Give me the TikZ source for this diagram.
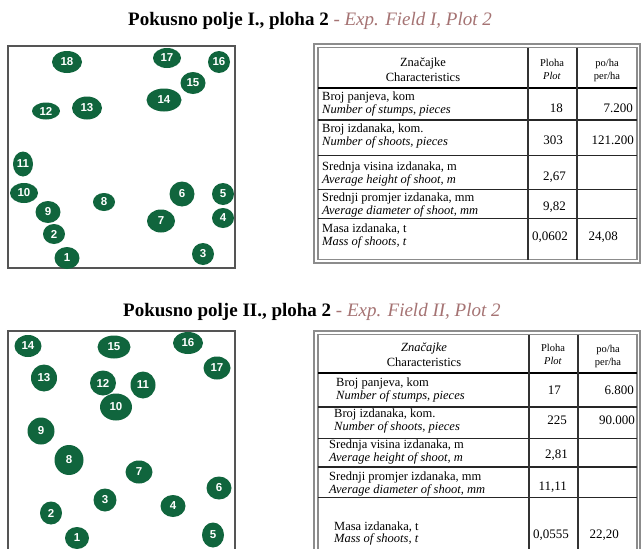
\documentclass[tikz,border=0pt]{standalone}
\usepackage{fontspec}
\setmainfont{Liberation Serif}
\setsansfont{Liberation Sans}
\usetikzlibrary{shapes.geometric}
\definecolor{stumpgreen}{HTML}{10653D}
\definecolor{rose}{RGB}{165,115,115}
\definecolor{boxgray}{RGB}{85,85,85}
\definecolor{tabgray}{RGB}{140,140,140}
\tikzset{
  stump/.style={ellipse, fill=stumpgreen, text=white, inner sep=0pt, font=\sffamily\bfseries\fontsize{11.5}{12}\selectfont},
  sz/.style 2 args={minimum width=#1pt, minimum height=#2pt},
  title/.style={anchor=base west, inner sep=0pt, font=\fontsize{19}{22}\selectfont},
  rowtext/.style={anchor=west, inner sep=0pt, align=left, font=\fontsize{12.5}{13}\selectfont},
  num/.style={anchor=east, inner sep=0pt, font=\fontsize{13}{14}\selectfont},
  hdr/.style={inner sep=0pt, align=center, font=\fontsize{12.5}{15}\selectfont},
  smallhdr/.style={inner sep=0pt, align=center, font=\fontsize{10.5}{13}\selectfont},
  plotbox/.style={draw=boxgray, line width=1.6pt},
  outerframe/.style={draw=tabgray, line width=1.2pt},
  rowrule/.style={draw=black!85, line width=0.9pt},
  thickrule/.style={draw=black, line width=2pt},
  colrule/.style={draw=black!80, line width=1.1pt},
}
\begin{document}
\begin{tikzpicture}[x=1pt,y=-1pt]
\useasboundingbox[fill=white] (0,0) rectangle (641,549);

% ---------- Titles ----------
\node[title] (t1) at (128,25) {\textbf{Pokusno polje I., ploha 2} \textcolor{rose}{\textit{- Exp. Field I, Plot 2}}};
\node[title] (t2) at (123,316) {\textbf{Pokusno polje II., ploha 2} \textcolor{rose}{\textit{- Exp. Field II, Plot 2}}};

% ---------- Plot 1 ----------
\draw[plotbox] (8,46) rectangle (235,268);
\node[stump,sz={30}{22}] (a18) at (67,62) {18};
\node[stump,sz={28}{20}] (a17) at (167,58) {17};
\node[stump,sz={22}{22}] (a16) at (219,62) {16};
\node[stump,sz={25}{22}] (a15) at (193,83) {15};
\node[stump,sz={35}{23}] (a14) at (164,100) {14};
\node[stump,sz={28}{17}] (a12) at (46,111) {12};
\node[stump,sz={30}{23}] (a13) at (87,108) {13};
\node[stump,sz={20}{25}] (a11) at (23,164) {11};
\node[stump,sz={28}{20}] (a10) at (24,193) {10};
\node[stump,sz={22}{18}] (a8) at (104,202) {8};
\node[stump,sz={25}{22}] (a9) at (48,212) {9};
\node[stump,sz={25}{25}] (a6) at (182,194) {6};
\node[stump,sz={22}{22}] (a5) at (223,194) {5};
\node[stump,sz={28}{23}] (a7) at (161,221) {7};
\node[stump,sz={22}{20}] (a4) at (223,218) {4};
\node[stump,sz={22}{20}] (a2) at (54,234) {2};
\node[stump,sz={25}{22}] (a1) at (67,258) {1};
\node[stump,sz={22}{22}] (a3) at (203,254) {3};

% ---------- Plot 2 ----------
\draw[plotbox] (8,560) -- (8,331) -- (235,331) -- (235,560);
\node[stump,sz={27}{22}] (b14) at (28,346) {14};
\node[stump,sz={33}{23}] (b15) at (114,347) {15};
\node[stump,sz={30}{22}] (b16) at (188,343) {16};
\node[stump,sz={27}{23}] (b17) at (217,368) {17};
\node[stump,sz={26}{27}] (b13) at (44,378) {13};
\node[stump,sz={26}{25}] (b12) at (103,383) {12};
\node[stump,sz={25}{27}] (b11) at (143,385) {11};
\node[stump,sz={32}{27}] (b10) at (116,407) {10};
\node[stump,sz={27}{27}] (b9) at (41,431) {9};
\node[stump,sz={29}{30}] (b8) at (69,460) {8};
\node[stump,sz={27}{23}] (b7) at (139,472) {7};
\node[stump,sz={25}{23}] (b6) at (219,488) {6};
\node[stump,sz={23}{23}] (b3) at (105,500) {3};
\node[stump,sz={25}{22}] (b4) at (173,506) {4};
\node[stump,sz={22}{23}] (b2) at (51,513) {2};
\node[stump,sz={24}{22}] (b1) at (77,538) {1};
\node[stump,sz={22}{25}] (b5) at (213,535) {5};

% ---------- Table 1 ----------
\draw[outerframe] (314,44) rectangle (640,263);
\draw[outerframe] (318,47.5) rectangle (637,259.5);
\draw[thickrule] (318,88) -- (637,88);
\draw[rowrule, line width=1.4pt] (318,120) -- (637,120);
\draw[rowrule] (318,155) -- (637,155);
\draw[rowrule] (318,189) -- (637,189);
\draw[rowrule] (318,218) -- (637,218);
\draw[colrule] (528,47.5) -- (528,259.5);
\draw[colrule] (577,47.5) -- (577,259.5);

\node[hdr] (h1a) at (423,70) {Značajke\\Characteristics};
\node[smallhdr] (h1b) at (552,69) {Ploha\\\textit{Plot}};
\node[smallhdr] (h1c) at (607,70) {po/ha\\per/ha};

\node[rowtext] (r11) at (322,104) {Broj panjeva, kom\\\textit{Number of stumps, pieces}};
\node[rowtext] (r12) at (322,136) {Broj izdanaka, kom.\\\textit{Number of shoots, pieces}};
\node[rowtext] (r13) at (322,174) {Srednja visina izdanaka, m\\\textit{Average height of shoot, m}};
\node[rowtext] (r14) at (322,205) {Srednji promjer izdanaka, mm\\\textit{Average diameter of shoot, mm}};
\node[rowtext] (r15) at (322,236) {Masa izdanaka, t\\\textit{Mass of shoots, t}};

\node[num] (v11) at (563,108) {18};
\node[num] (w11) at (633,108) {7.200};
\node[num] (v12) at (563,140) {303};
\node[num] (w12) at (634,140) {121.200};
\node[num] (v13) at (566,177) {2,67};
\node[num] (v14) at (566,207) {9,82};
\node[num] (v15) at (568,237) {0,0602};
\node[num] (w15) at (618,237) {24,08};

% ---------- Table 2 ----------
\draw[outerframe] (314,560) -- (314,331) -- (640,331) -- (640,560);
\draw[outerframe] (318,560) -- (318,334.5) -- (637,334.5) -- (637,560);
\draw[thickrule] (318,373) -- (637,373);
\draw[rowrule, line width=1.4pt] (318,407) -- (637,407);
\draw[rowrule] (318,438) -- (637,438);
\draw[rowrule, line width=1.8pt] (318,467) -- (637,467);
\draw[rowrule] (318,497) -- (637,497);
\draw[colrule] (529,334.5) -- (529,560);
\draw[colrule] (578,334.5) -- (578,560);

\node[hdr] (h2a) at (424,355) {\textit{Značajke}\\Characteristics};
\node[smallhdr] (h2b) at (553,354) {Ploha\\\textit{Plot}};
\node[smallhdr] (h2c) at (608,356) {po/ha\\per/ha};

\node[rowtext] (r21) at (336,390) {Broj panjeva, kom\\\textit{Number of stumps, pieces}};
\node[rowtext] (r22) at (334,421) {Broj izdanaka, kom.\\\textit{Number of shoots, pieces}};
\node[rowtext] (r23) at (329,452) {Srednja visina izdanaka, m\\\textit{Average height of shoot, m}};
\node[rowtext] (r24) at (329,484) {Srednji promjer izdanaka, mm\\\textit{Average diameter of shoot, mm}};
\node[rowtext, font=\fontsize{12.5}{12}\selectfont] (r25) at (334,533) {Masa izdanaka, t\\\textit{Mass of shoots, t}};

\node[num] (v21) at (561,390) {17};
\node[num] (w21) at (634,390) {6.800};
\node[num] (v22) at (567,420) {225};
\node[num] (w22) at (635,420) {90.000};
\node[num] (v23) at (568,455) {2,81};
\node[num] (v24) at (567,487) {11,11};
\node[num] (v25) at (569,535) {0,0555};
\node[num] (w25) at (619,535) {22,20};
\end{tikzpicture}
\end{document}
